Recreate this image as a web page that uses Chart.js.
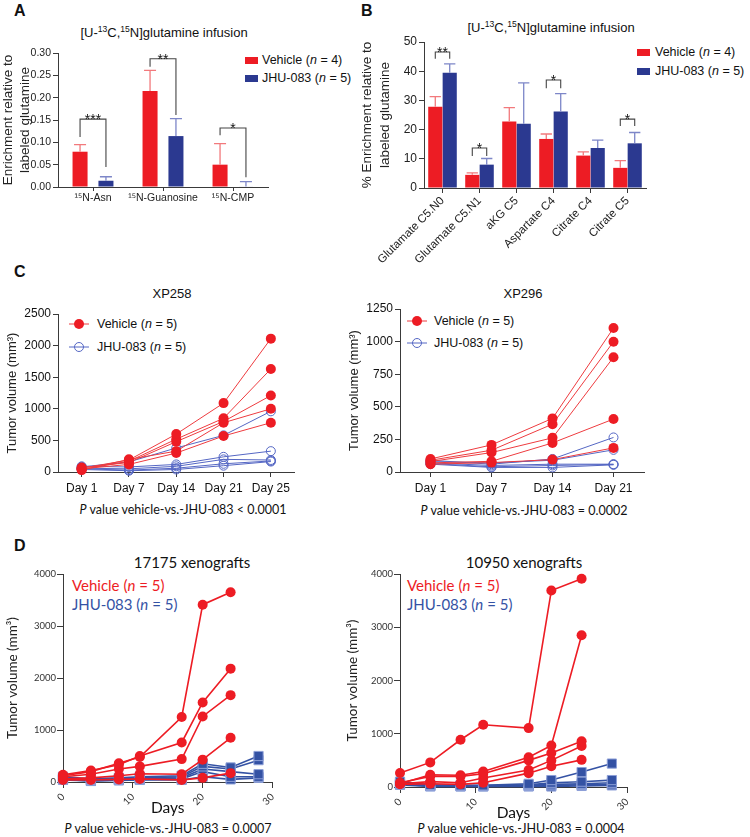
<!DOCTYPE html>
<html>
<head>
<meta charset="utf-8">
<script src="https://cdn.jsdelivr.net/npm/chart.js@4.4.1/dist/chart.umd.min.js"></script>
<style>
  body { margin: 0; background: #fff; }
  #fig { position: relative; width: 750px; height: 837px; overflow: hidden; font-family: 'Liberation Sans', Arial, sans-serif; color: #111; }
  #fig canvas { position: absolute; }
  .t { position: absolute; white-space: nowrap; transform: translate(-50%, -50%); line-height: 1; }
  .l { position: absolute; white-space: nowrap; transform: translateY(-50%); line-height: 1; }
  .letter { position: absolute; font-weight: bold; font-size: 16px; line-height: 1; transform: translateY(-50%); }
  sup { font-size: 0.66em; vertical-align: 0.5em; line-height: 0; }
  .my { font-family: Lato, sans-serif; }
  .sw { position: absolute; width: 13px; height: 7px; }
  svg { position: absolute; }
</style>
</head>
<body>
<div id="fig">
  <div class="letter" style="left:14px; top:11px">A</div>
  <div class="letter" style="left:361px; top:11px">B</div>
  <div class="letter" style="left:14px; top:272px">C</div>
  <div class="letter" style="left:14px; top:546px">D</div>

  <div class="t" style="left:164px; top:32px; font-size:13px">[U-<sup>13</sup>C,<sup>15</sup>N]glutamine infusion</div>
  <div class="t" style="left:551px; top:27px; font-size:13px">[U-<sup>13</sup>C,<sup>15</sup>N]glutamine infusion</div>
  <div class="t" style="left:172px; top:293px; font-size:13px">XP258</div>
  <div class="t" style="left:523px; top:293px; font-size:13px">XP296</div>
  <div class="t my" style="left:192px; top:562px; font-size:15px">17175 xenografts</div>
  <div class="t my" style="left:524px; top:562px; font-size:15px">10950 xenografts</div>

  <!-- legends A / B -->
  <div class="sw" style="left:245px; top:57px; background:#ed1c24"></div>
  <div class="l" style="left:262px; top:60px; font-size:12.5px">Vehicle (<i>n</i> = 4)</div>
  <div class="sw" style="left:245px; top:75px; background:#2b3990"></div>
  <div class="l" style="left:262px; top:78px; font-size:12.5px">JHU-083 (<i>n</i> = 5)</div>
  <div class="sw" style="left:637px; top:49px; background:#ed1c24"></div>
  <div class="l" style="left:655px; top:52px; font-size:12.5px">Vehicle (<i>n</i> = 4)</div>
  <div class="sw" style="left:637px; top:68px; background:#2b3990"></div>
  <div class="l" style="left:655px; top:71px; font-size:12.5px">JHU-083 (<i>n</i> = 5)</div>

  <!-- legends C -->
  <svg style="left:69px; top:318px" width="20" height="12"><line x1="0" y1="6" x2="20" y2="6" stroke="#ee3b3f" stroke-width="1"/><circle cx="10" cy="6" r="5" fill="#ed1c24"/></svg>
  <div class="l" style="left:97px; top:324px; font-size:12.5px">Vehicle (<i>n</i> = 5)</div>
  <svg style="left:69px; top:341px" width="20" height="12"><line x1="0" y1="6" x2="20" y2="6" stroke="#5567c4" stroke-width="1"/><circle cx="10" cy="6" r="4.5" fill="none" stroke="#5567c4" stroke-width="1"/></svg>
  <div class="l" style="left:97px; top:347px; font-size:12.5px">JHU-083 (<i>n</i> = 5)</div>
  <svg style="left:407px; top:315px" width="20" height="12"><line x1="0" y1="6" x2="20" y2="6" stroke="#ee3b3f" stroke-width="1"/><circle cx="10" cy="6" r="5" fill="#ed1c24"/></svg>
  <div class="l" style="left:434px; top:321px; font-size:12.5px">Vehicle (<i>n</i> = 5)</div>
  <svg style="left:407px; top:337px" width="20" height="12"><line x1="0" y1="6" x2="20" y2="6" stroke="#5567c4" stroke-width="1"/><circle cx="10" cy="6" r="4.5" fill="none" stroke="#5567c4" stroke-width="1"/></svg>
  <div class="l" style="left:434px; top:343px; font-size:12.5px">JHU-083 (<i>n</i> = 5)</div>

  <!-- legends D -->
  <div class="l my" style="left:72px; top:585px; font-size:15px; color:#ed1c24">Vehicle (<i>n</i> = 5)</div>
  <div class="l my" style="left:72px; top:604px; font-size:15px; color:#3452a4">JHU-083 (<i>n</i> = 5)</div>
  <div class="l my" style="left:407px; top:585px; font-size:15px; color:#ed1c24">Vehicle (<i>n</i> = 5)</div>
  <div class="l my" style="left:407px; top:604px; font-size:15px; color:#3452a4">JHU-083 (<i>n</i> = 5)</div>

  <!-- captions -->
  <div class="t my" style="left:183px; top:510px; font-size:12.5px"><i>P</i> value vehicle-vs.-JHU-083 &lt; 0.0001</div>
  <div class="t my" style="left:524px; top:511px; font-size:12.5px"><i>P</i> value vehicle-vs.-JHU-083 = 0.0002</div>
  <div class="t my" style="left:168px; top:829px; font-size:12.5px"><i>P</i> value vehicle-vs.-JHU-083 = 0.0007</div>
  <div class="t my" style="left:521px; top:829px; font-size:12.5px"><i>P</i> value vehicle-vs.-JHU-083 = 0.0004</div>

  <canvas id="chartA" width="275" height="170" style="left:0px; top:45px"></canvas>
  <canvas id="chartB" width="298" height="237" style="left:358px; top:35px"></canvas>
  <canvas id="chartC1" width="300" height="195" style="left:0px; top:305px"></canvas>
  <canvas id="chartC2" width="310" height="200" style="left:340px; top:300px"></canvas>
  <canvas id="chartD1" width="280" height="256" style="left:0px; top:566px"></canvas>
  <canvas id="chartD2" width="295" height="261" style="left:340px; top:566px"></canvas>
</div>

<script>
// Panel A - 15N enrichment
const aLabels = ['¹⁵N-Asn', '¹⁵N-Guanosine', '¹⁵N-CMP'];
const aVehicle = [0.079, 0.215, 0.050];
const aVehicleErr = [0.016, 0.046, 0.047];
const aJhu = [0.014, 0.114, 0.001];
const aJhuErr = [0.009, 0.039, 0.011];
const aSigGroups = [0, 1, 2];
const aSigLabels = ['***', '**', '*'];
const aSigTop = [0.152, 0.287, 0.132];
const aSigLeft = [0.112, 0.269, 0.116];
const aSigRight = [0.045, 0.161, 0.022];

// Panel B - % enrichment
const bLabels = ['Glutamate C5.N0', 'Glutamate C5.N1', 'aKG C5', 'Aspartate C4', 'Citrate C4', 'Citrate C5'];
const bVehicle = [27.8, 4.5, 22.8, 16.8, 11.1, 6.9];
const bVehicleErr = [3.5, 0.7, 4.7, 1.7, 1.3, 2.5];
const bJhu = [39.5, 8.0, 22.0, 26.2, 13.7, 15.3];
const bJhuErr = [3.0, 2.1, 14.0, 6.1, 2.7, 3.7];
const bSigGroups = [0, 1, 3, 5];
const bSigLabels = ['**', '*', '*', '*'];
const bSigTop = [46.6, 13.7, 37.0, 23.6];
const bSigLeg = [44.3, 11.0, 34.2, 21.2];

// Panel C - XP258 / XP296 tumor volumes, one row per mouse
const xp258Days = ['Day 1', 'Day 7', 'Day 14', 'Day 21', 'Day 25'];
const xp258Vehicle = [
  [60, 190, 600, 1090, 2110],
  [40, 170, 520, 850, 1630],
  [70, 150, 480, 800, 1210],
  [30, 200, 330, 780, 1000],
  [50, 120, 300, 570, 780],
];
const xp258Jhu = [
  [80, 160, 380, 580, 960],
  [90, 80, 120, 240, 330],
  [60, 50, 90, 200, 190],
  [50, 30, 60, 130, 175],
  [40, 20, 40, 100, 165],
];
const xp296Days = ['Day 1', 'Day 7', 'Day 14', 'Day 21'];
const xp296Vehicle = [
  [100, 208, 411, 1104],
  [90, 167, 367, 999],
  [80, 149, 262, 880],
  [70, 82, 223, 406],
  [60, 72, 95, 185],
];
const xp296Jhu = [
  [90, 60, 100, 265],
  [80, 70, 90, 170],
  [70, 50, 60, 60],
  [65, 40, 50, 58],
  [60, 35, 35, 55],
];

// Panel D - xenografts
const vehicleDays = [0, 4, 8, 11, 17, 20, 24];
const jhuDays = [0, 4, 8, 11, 17, 20, 24, 28];
const x17175Vehicle = [
  [120, 200, 360, 480, 1250, 3410, 3650],
  [140, 220, 330, 500, 760, 1530, 2180],
  [100, 150, 250, 300, 440, 1260, 1670],
  [60, 80, 120, 160, 150, 430, 850],
  [40, 40, 50, 60, 40, 80, 170],
];
const x17175Jhu = [
  [100, 60, 80, 100, 120, 350, 280, 500],
  [80, 40, 60, 80, 100, 300, 250, 420],
  [60, 30, 50, 60, 80, 250, 200, 150],
  [50, 20, 40, 50, 60, 200, 100, 100],
  [40, 20, 30, 40, 40, 100, 50, 80],
];
const x10950Vehicle = [
  [262, 462, 887, 1169, 1106, 3690, 3910],
  [60, 230, 220, 290, 560, 780, 2850],
  [80, 200, 200, 250, 500, 640, 860],
  [60, 100, 80, 170, 320, 500, 770],
  [50, 60, 50, 80, 260, 390, 510],
];
const x10950Jhu = [
  [100, 40, 30, 30, 60, 130, 280, 440],
  [80, 30, 25, 25, 40, 80, 100, 130],
  [60, 20, 20, 20, 30, 50, 60, 80],
  [50, 20, 15, 15, 20, 30, 40, 50],
  [40, 10, 10, 10, 10, 10, 20, 30],
];

const RED = '#ed1c24';
const BLUE = '#2b3990';
const AXIS = '#3a3a3a';

Chart.defaults.font.family = "'Liberation Sans', Arial, sans-serif";
Chart.defaults.color = '#222';

// pin the plot area: fixed axis sizes, no label overflow padding
function yFit(w) {
  return (scale) => { scale.width = w; scale.paddingTop = 0; scale.paddingBottom = 0; };
}
function xFit(h) {
  return (scale) => { scale.height = h; scale.paddingLeft = 0; scale.paddingRight = 0; };
}

function axisGrid(len) {
  return { display: true, drawOnChartArea: false, drawTicks: true, tickLength: len, color: AXIS, offset: false };
}

const plain = (v) => String(v);

const errorBars = {
  id: 'errorBars',
  afterDatasetsDraw(chart) {
    const ctx = chart.ctx;
    const y = chart.scales.y;
    chart.data.datasets.forEach((ds, i) => {
      chart.getDatasetMeta(i).data.forEach((bar, j) => {
        const top = y.getPixelForValue(ds.data[j] + ds.errors[j]);
        const half = bar.width * 0.4;
        ctx.save();
        ctx.strokeStyle = ds.errorColor;
        ctx.lineWidth = 1.3;
        ctx.beginPath();
        ctx.moveTo(bar.x, bar.y);
        ctx.lineTo(bar.x, top);
        ctx.moveTo(bar.x - half, top);
        ctx.lineTo(bar.x + half, top);
        ctx.stroke();
        ctx.restore();
      });
    });
  }
};

function sigBrackets(groups, labels, tops, lefts, rights) {
  return {
    id: 'sigBrackets',
    afterDatasetsDraw(chart) {
      const ctx = chart.ctx;
      const y = chart.scales.y;
      const red = chart.getDatasetMeta(0).data;
      const blue = chart.getDatasetMeta(1).data;
      groups.forEach((g, k) => {
        const x1 = red[g].x, x2 = blue[g].x;
        const yt = y.getPixelForValue(tops[k]);
        ctx.save();
        ctx.strokeStyle = '#444';
        ctx.lineWidth = 1.1;
        ctx.beginPath();
        ctx.moveTo(x1, y.getPixelForValue(lefts[k]));
        ctx.lineTo(x1, yt);
        ctx.lineTo(x2, yt);
        ctx.lineTo(x2, y.getPixelForValue(rights[k]));
        ctx.stroke();
        ctx.fillStyle = '#111';
        ctx.font = "14px 'Liberation Sans', Arial, sans-serif";
        ctx.textAlign = 'center';
        ctx.textBaseline = 'alphabetic';
        ctx.fillText(labels[k], (x1 + x2) / 2, yt + 5);
        ctx.restore();
      });
    }
  };
}

// Panel A
new Chart(document.getElementById('chartA'), {
  type: 'bar',
  data: {
    labels: aLabels,
    datasets: [
      { data: aVehicle, errors: aVehicleErr, errorColor: '#f2797c', backgroundColor: RED, barPercentage: 0.58, categoryPercentage: 0.74 },
      { data: aJhu, errors: aJhuErr, errorColor: '#7d86c8', backgroundColor: BLUE, barPercentage: 0.58, categoryPercentage: 0.74 },
    ],
  },
  options: {
    responsive: false,
    animation: false,
    layout: { padding: { top: 8, right: 7, left: 0, bottom: 0 } },
    plugins: { legend: { display: false }, tooltip: { enabled: false } },
    scales: {
      x: {
        grid: axisGrid(4),
        border: { color: AXIS },
        ticks: { font: { size: 10.5 }, padding: 1, maxRotation: 0, autoSkip: false, color: '#222' },
        afterFit: xFit(28),
      },
      y: {
        min: 0, max: 0.30,
        grid: axisGrid(5),
        border: { color: AXIS },
        ticks: { stepSize: 0.05, font: { size: 10.5 }, padding: 2, callback: (v) => v.toFixed(2) },
        title: { display: true, text: ['Enrichment relative to', 'labeled glutamine'], font: { size: 13.5, lineHeight: 1.25 }, padding: { top: 0 }, color: '#222' },
        afterFit: yFit(58),
      },
    },
  },
  plugins: [errorBars, sigBrackets(aSigGroups, aSigLabels, aSigTop, aSigLeft, aSigRight)],
});

// Panel B
new Chart(document.getElementById('chartB'), {
  type: 'bar',
  data: {
    labels: bLabels,
    datasets: [
      { data: bVehicle, errors: bVehicleErr, errorColor: '#f2797c', backgroundColor: RED, barPercentage: 0.98, categoryPercentage: 0.78 },
      { data: bJhu, errors: bJhuErr, errorColor: '#7d86c8', backgroundColor: BLUE, barPercentage: 0.98, categoryPercentage: 0.78 },
    ],
  },
  options: {
    responsive: false,
    animation: false,
    layout: { padding: { top: 7, right: 10, left: 0, bottom: 0 } },
    plugins: { legend: { display: false }, tooltip: { enabled: false } },
    scales: {
      x: {
        grid: axisGrid(5),
        border: { color: AXIS },
        ticks: { font: { size: 11.5 }, padding: 1, minRotation: 45, maxRotation: 45, autoSkip: false, color: '#222' },
        afterFit: xFit(84),
      },
      y: {
        min: 0, max: 50,
        grid: axisGrid(5),
        border: { color: AXIS },
        ticks: { stepSize: 10, font: { size: 12 }, padding: 2, callback: plain },
        title: { display: true, text: ['% Enrichment relative to', 'labeled glutamine'], font: { size: 13.5, lineHeight: 1.3 }, padding: { top: 1 }, color: '#222' },
        afterFit: yFit(66),
      },
    },
  },
  plugins: [errorBars, sigBrackets(bSigGroups, bSigLabels, bSigTop, bSigLeg, bSigLeg)],
});

// Panel C
function vehicleLine(values) {
  return {
    data: values, borderColor: '#ee3b3f', borderWidth: 1, backgroundColor: RED,
    pointRadius: 5, pointBorderWidth: 0, pointBackgroundColor: RED, clip: false,
  };
}
function jhuLine(values) {
  return {
    data: values, borderColor: '#5567c4', borderWidth: 1, backgroundColor: 'rgba(0,0,0,0)',
    pointRadius: 4.5, pointBorderWidth: 1, pointBorderColor: '#5567c4', pointBackgroundColor: 'rgba(255,255,255,0)', clip: false,
  };
}

function tumorChart(id, days, vehicle, jhu, max, step, yWidth, titlePad, rightPad, topPad) {
  return new Chart(document.getElementById(id), {
    type: 'line',
    data: {
      labels: days,
      datasets: [...vehicle.map(vehicleLine), ...jhu.map(jhuLine)],
    },
    options: {
      responsive: false,
      animation: false,
      layout: { padding: { top: topPad, right: rightPad, left: 0, bottom: 0 } },
      plugins: { legend: { display: false }, tooltip: { enabled: false } },
      scales: {
        x: {
          offset: true,
          grid: axisGrid(5),
          border: { color: AXIS },
          ticks: { font: { size: 12 }, padding: 4, maxRotation: 0, autoSkip: false, color: '#111' },
          afterFit: xFit(28),
        },
        y: {
          min: 0, max: max,
          grid: axisGrid(5),
          border: { color: AXIS },
          ticks: { stepSize: step, font: { size: 12 }, padding: 2, color: '#111', callback: plain },
          title: { display: true, text: 'Tumor volume (mm³)', font: { size: 13 }, padding: { top: titlePad }, color: '#222' },
          afterFit: yFit(yWidth),
        },
      },
    },
  });
}

tumorChart('chartC1', xp258Days, xp258Vehicle, xp258Jhu, 2500, 500, 58, 5, 4, 9);
tumorChart('chartC2', xp296Days, xp296Vehicle, xp296Jhu, 1250, 250, 60, 7, 6, 9);

// Panel D
function xenoVehicle(values) {
  return {
    data: values.map((v, i) => ({ x: vehicleDays[i], y: v })),
    borderColor: RED, borderWidth: 1.6, pointRadius: 5, pointBorderWidth: 0,
    pointBackgroundColor: RED, clip: false,
  };
}
function xenoJhu(values) {
  return {
    data: values.map((v, i) => ({ x: jhuDays[i], y: v })),
    borderColor: '#3452a4', borderWidth: 1.6, pointStyle: 'rect', pointRadius: 6.5, pointBorderWidth: 1,
    pointBorderColor: '#8ea0d8', pointBackgroundColor: '#3452a4', clip: false,
  };
}

function xenoChart(id, vehicle, jhu, yWidth, rightPad) {
  return new Chart(document.getElementById(id), {
    type: 'line',
    data: { datasets: [...vehicle.map(xenoVehicle), ...jhu.map(xenoJhu)] },
    options: {
      responsive: false,
      animation: false,
      layout: { padding: { top: 8, right: rightPad, left: 0, bottom: 0 } },
      plugins: { legend: { display: false }, tooltip: { enabled: false } },
      scales: {
        x: {
          type: 'linear', min: 0, max: 30,
          grid: axisGrid(6),
          border: { color: AXIS },
          ticks: { stepSize: 10, font: { family: 'Lato, sans-serif', size: 10 }, padding: 3, minRotation: 45, maxRotation: 45, color: '#333', callback: plain },
          title: { display: true, text: 'Days', font: { family: 'Lato, sans-serif', size: 15.5 }, padding: { bottom: 5 }, color: '#111' },
          afterFit: xFit(40),
        },
        y: {
          min: 0, max: 4000,
          grid: axisGrid(6),
          border: { color: AXIS },
          ticks: { stepSize: 1000, font: { family: 'Lato, sans-serif', size: 9.5 }, padding: 1, color: '#333', callback: plain },
          title: { display: true, text: 'Tumor volume (mm³)', font: { family: 'Lato, sans-serif', size: 13.5 }, padding: { top: 5 }, color: '#222' },
          afterFit: yFit(yWidth),
        },
      },
    },
  });
}

xenoChart('chartD1', x17175Vehicle, x17175Jhu, 63, 7);
xenoChart('chartD2', x10950Vehicle, x10950Jhu, 60, 8);
</script>
</body>
</html>
